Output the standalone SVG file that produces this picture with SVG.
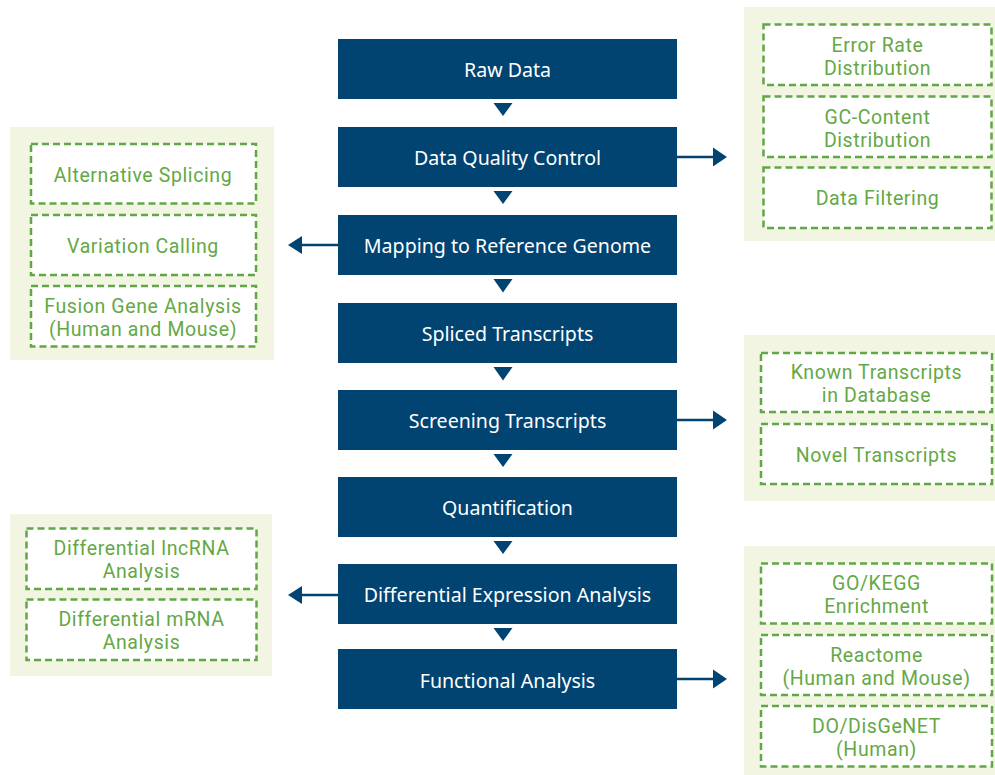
<svg xmlns="http://www.w3.org/2000/svg" width="995" height="775" viewBox="0 0 995 775">
<style>
.main rect{fill:#014371}
.main text{fill:#ffffff;font-family:"Noto Sans","Open Sans",sans-serif;font-size:19.6px;text-anchor:middle}
.panel{fill:#f1f5e1}
.dash{fill:#ffffff;stroke:#62a745;stroke-width:2.5;stroke-dasharray:7 4}
.gt{fill:#64a845;font-family:Roboto,"Noto Sans",sans-serif;font-size:19.5px;letter-spacing:0.6px;text-anchor:middle}
.tri{fill:#014371}
.ln{stroke:#014371;stroke-width:2.5;fill:none}
</style>
<rect width="995" height="775" fill="#ffffff"/>

<g id="panel-qc">
<rect class="panel" x="744" y="7" width="251" height="234"/>
<rect class="dash" x="763.5" y="24.5" width="228" height="60.5"/>
<text class="gt" x="877.5" y="51.5">Error Rate<tspan x="877.5" dy="23">Distribution</tspan></text>
<rect class="dash" x="763.5" y="96.5" width="228" height="60.5"/>
<text class="gt" x="877.5" y="123.5">GC-Content<tspan x="877.5" dy="23">Distribution</tspan></text>
<rect class="dash" x="763.5" y="167.5" width="228" height="60.5"/>
<text class="gt" x="877.5" y="205">Data Filtering</text>
</g>

<g id="panel-mapping">
<rect class="panel" x="10" y="127" width="264" height="233"/>
<rect class="dash" x="31" y="144" width="225" height="59.5"/>
<text class="gt" x="143" y="181.5">Alternative Splicing</text>
<rect class="dash" x="31" y="215" width="225" height="60"/>
<text class="gt" x="143" y="252.5">Variation Calling</text>
<rect class="dash" x="31" y="286" width="225" height="60.5"/>
<text class="gt" x="143" y="313">Fusion Gene Analysis<tspan x="143" dy="23">(Human and Mouse)</tspan></text>
</g>

<g id="panel-screening">
<rect class="panel" x="744" y="335" width="251" height="166"/>
<rect class="dash" x="761" y="353" width="231" height="59"/>
<text class="gt" x="876.5" y="379">Known Transcripts<tspan x="876.5" dy="23">in Database</tspan></text>
<rect class="dash" x="761" y="424" width="231" height="60"/>
<text class="gt" x="876.5" y="461.5">Novel Transcripts</text>
</g>

<g id="panel-diff">
<rect class="panel" x="10" y="514" width="262" height="162"/>
<rect class="dash" x="26.5" y="528.5" width="230" height="60.5"/>
<text class="gt" x="141.5" y="554.5">Differential lncRNA<tspan x="141.5" dy="23">Analysis</tspan></text>
<rect class="dash" x="26.5" y="599.5" width="230" height="60.5"/>
<text class="gt" x="141.5" y="625.5">Differential mRNA<tspan x="141.5" dy="23">Analysis</tspan></text>
</g>

<g id="panel-func">
<rect class="panel" x="744" y="546" width="251" height="229"/>
<rect class="dash" x="761" y="563.5" width="231" height="60"/>
<text class="gt" x="876.5" y="590">GO/KEGG<tspan x="876.5" dy="23">Enrichment</tspan></text>
<rect class="dash" x="761" y="635" width="231" height="60"/>
<text class="gt" x="876.5" y="661.5">Reactome<tspan x="876.5" dy="23">(Human and Mouse)</tspan></text>
<rect class="dash" x="761" y="706" width="231" height="60.5"/>
<text class="gt" x="876.5" y="732.5">DO/DisGeNET<tspan x="876.5" dy="23">(Human)</tspan></text>
</g>

<g id="raw-data" class="main"><rect x="338" y="39" width="339" height="60"/><text x="507.5" y="77">Raw Data</text></g>
<g id="data-qc" class="main"><rect x="338" y="127" width="339" height="60"/><text x="507.5" y="165">Data Quality Control</text></g>
<g id="mapping" class="main"><rect x="338" y="215" width="339" height="60"/><text x="507.5" y="253">Mapping to Reference Genome</text></g>
<g id="spliced" class="main"><rect x="338" y="303" width="339" height="60"/><text x="507.5" y="341">Spliced Transcripts</text></g>
<g id="screening" class="main"><rect x="338" y="390" width="339" height="60"/><text x="507.5" y="428">Screening Transcripts</text></g>
<g id="quant" class="main"><rect x="338" y="477" width="339" height="60"/><text x="507.5" y="515">Quantification</text></g>
<g id="diff-expr" class="main"><rect x="338" y="564" width="339" height="60"/><text x="507.5" y="602">Differential Expression Analysis</text></g>
<g id="functional" class="main"><rect x="338" y="649" width="339" height="60"/><text x="507.5" y="687.5">Functional Analysis</text></g>

<g id="connectors">
<polygon class="tri" points="493.5,103 512.5,103 503,116"/>
<polygon class="tri" points="493.5,191 512.5,191 503,204"/>
<polygon class="tri" points="493.5,279 512.5,279 503,292.5"/>
<polygon class="tri" points="493.5,367 512.5,367 503,380.5"/>
<polygon class="tri" points="493.5,454 512.5,454 503,467"/>
<polygon class="tri" points="493.5,541 512.5,541 503,554"/>
<polygon class="tri" points="493.5,628 512.5,628 503,641"/>

<line class="ln" x1="677" y1="157" x2="715" y2="157"/>
<polygon class="tri" points="713,147.5 727,157 713,166.5"/>
<line class="ln" x1="677" y1="420" x2="715" y2="420"/>
<polygon class="tri" points="713,410.5 727,420 713,429.5"/>
<line class="ln" x1="677" y1="679" x2="715" y2="679"/>
<polygon class="tri" points="713,669.5 727,679 713,688.5"/>

<line class="ln" x1="338" y1="245" x2="300" y2="245"/>
<polygon class="tri" points="302,236 288,245 302,254"/>
<line class="ln" x1="338" y1="595" x2="300" y2="595"/>
<polygon class="tri" points="302,586 288,595 302,604"/>
</g>
</svg>
